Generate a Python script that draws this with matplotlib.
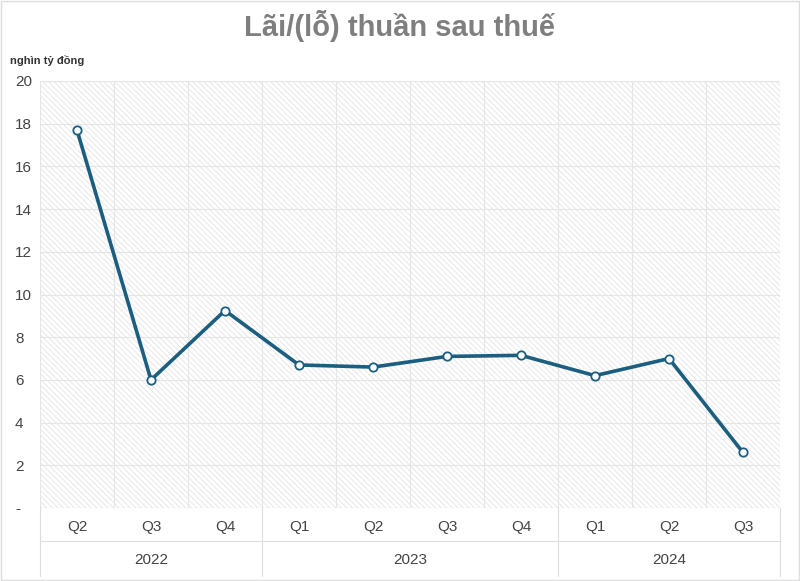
import matplotlib
matplotlib.use("Agg")
import matplotlib.pyplot as plt
import numpy as np

quarters = ["Q2", "Q3", "Q4", "Q1", "Q2", "Q3", "Q4", "Q1", "Q2", "Q3"]
years = ["2022", "2023", "2024"]
year_counts = [3, 4, 3]
values = [17.7, 6.0, 9.25, 6.7, 6.6, 7.1, 7.15, 6.2, 7.0, 2.6]

plt.rcParams['font.family'] = ['Liberation Sans', 'DejaVu Sans']
plt.rcParams['hatch.color'] = '#e4e4e4'
plt.rcParams['hatch.linewidth'] = 0.6
fig = plt.figure(figsize=(8, 5.81), dpi=100)
ax = fig.add_axes([40/800, 1-508/581, 740/800, 427/581])
n = len(values)
x = np.arange(n)
ax.set_xlim(-0.5, n-0.5)
ax.set_ylim(0, 20)
ax.add_patch(plt.Rectangle((-0.5, 0), n, 20, facecolor='white', edgecolor='#e4e4e4',
                           hatch='\\\\\\\\\\\\', lw=0, zorder=0))
for xv in np.arange(-0.5, n, 1.0):
    ax.axvline(xv, color='#e6e6e6', lw=0.8, zorder=1)
for yv in range(2, 21, 2):
    ax.axhline(yv, color='#e6e6e6', lw=0.8, zorder=1)
ax.plot(x, values, color='#1b5e80', lw=2.6, marker='o', ms=6, mfc='white',
        mec='#1b5e80', mew=1.3, zorder=3)
ax.set_yticks(range(0, 21, 2))
ax.set_yticklabels(['-'] + [str(v) for v in range(2, 21, 2)], fontsize=11, color='#444444')
ax.set_xticks([])
ax.tick_params(length=0)
ax.tick_params(axis='y', pad=18)
for lab in ax.get_yticklabels():
    lab.set_horizontalalignment('left')
for s in ax.spines.values():
    s.set_visible(False)
ax.axhline(0, color='#cccccc', lw=0.8, zorder=2)
for xi, q in zip(x, quarters):
    ax.text(xi, -0.89, q, ha='center', va='center', fontsize=11, color='#444444', clip_on=False)
start = 0
for yr, c in zip(years, year_counts):
    mid = start + (c-1)/2
    ax.text(mid, -2.44, yr, ha='center', va='center', fontsize=11, color='#444444', clip_on=False)
    start += c
for b in [-0.5, 2.5, 6.5, 9.5]:
    ax.plot([b, b], [0, -3.2], color='#dddddd', lw=0.8, clip_on=False)
ax.plot([-0.5, 9.5], [-1.55, -1.55], color='#dddddd', lw=0.8, clip_on=False)
fig.text(0.5, 0.955, "Lãi/(lỗ) thuần sau thuế", ha='center', va='center',
         fontsize=21, fontweight='bold', color='#7f7f7f')
fig.text(10/800, 1-60/581, "nghìn tỷ đồng", ha='left', va='center', fontsize=8,
         fontweight='bold', color='#333333')
fig.patches.append(plt.Rectangle((0.001, 0.001), 0.998, 0.998, transform=fig.transFigure,
                                 fill=False, edgecolor='#dddddd', lw=1))
fig.savefig("out.png", dpi=100)
